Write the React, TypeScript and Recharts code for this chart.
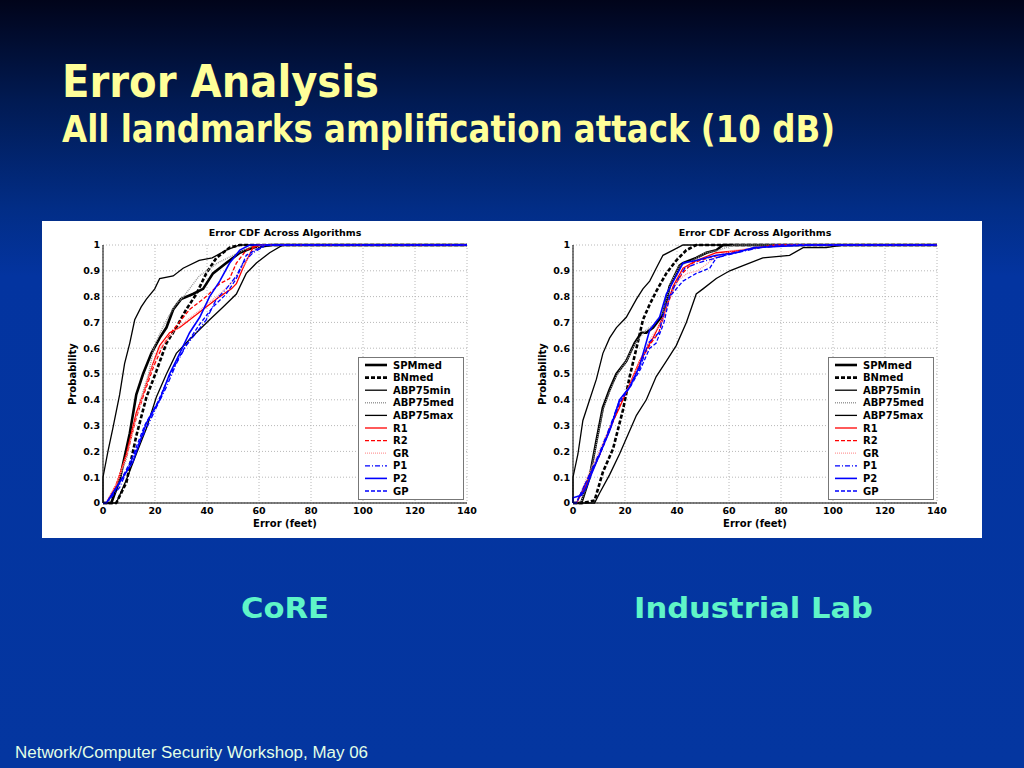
import React from "react"
import { LineChart, Line, XAxis, YAxis, CartesianGrid, Legend, Label } from "recharts"

// ---- data: [error (feet), probability] ----
const xTicks = [0, 20, 40, 60, 80, 100, 120, 140]
const yTicks = [0, 0.1, 0.2, 0.3, 0.4, 0.5, 0.6, 0.7, 0.8, 0.9, 1]

// CoRE
const coreSPMmed = [[0, 0], [3.2, 0], [6.4, 0.09], [10.3, 0.27], [12.8, 0.42], [15.4, 0.5], [18.6, 0.58], [21.8, 0.64], [24.4, 0.68], [27, 0.75], [30, 0.79], [34.6, 0.81], [38.5, 0.83], [42.3, 0.89], [47.4, 0.93], [52.6, 0.97], [57.7, 0.99], [65, 1], [140, 1]]
const coreBNmed = [[0, 0], [5.1, 0], [9, 0.08], [12.8, 0.26], [16.7, 0.41], [20.5, 0.51], [24.4, 0.62], [28.2, 0.68], [32, 0.75], [35.9, 0.81], [39.7, 0.89], [43.6, 0.95], [48.7, 0.99], [52.6, 1], [140, 1]]
const coreABP75min = [[0, 0], [0, 0.1], [1.9, 0.2], [3.8, 0.29], [6.4, 0.42], [8.3, 0.54], [10.3, 0.62], [12.2, 0.71], [14.7, 0.76], [16.7, 0.79], [19.9, 0.83], [21.8, 0.87], [27, 0.88], [30.8, 0.91], [37, 0.94], [42, 0.95], [47.4, 0.98], [52.6, 1], [140, 1]]
const coreABP75med = [[0, 0], [2, 0], [5, 0.06], [9, 0.17], [12.5, 0.33], [15, 0.42], [17.5, 0.5], [19.5, 0.6], [22, 0.66], [25, 0.72], [28, 0.77], [31, 0.8], [34, 0.84], [37, 0.88], [40, 0.9], [44, 0.93], [48, 0.95], [52, 0.97], [56, 0.99], [62, 1], [140, 1]]
const coreABP75max = [[0, 0], [5.1, 0], [9, 0.09], [12.8, 0.19], [16.7, 0.29], [20.5, 0.41], [24.4, 0.5], [28.2, 0.58], [32, 0.62], [35.9, 0.66], [41, 0.71], [46.2, 0.76], [51.3, 0.81], [55.1, 0.89], [59, 0.93], [64.1, 0.97], [69.2, 1], [140, 1]]
const coreR1 = [[0, 0], [1.3, 0], [5.1, 0.07], [9, 0.19], [12.8, 0.35], [15.4, 0.42], [19.2, 0.54], [21.8, 0.61], [25.6, 0.66], [29.5, 0.68], [34.6, 0.72], [39.7, 0.76], [44.9, 0.8], [49.4, 0.83], [51.3, 0.85], [53.8, 0.91], [57.7, 0.99], [60.3, 1], [140, 1]]
const coreR2 = [[0, 0], [1.3, 0], [5, 0.07], [9, 0.18], [12.8, 0.33], [16, 0.43], [19.5, 0.53], [23, 0.61], [26.9, 0.67], [33.3, 0.75], [39.7, 0.8], [44.9, 0.85], [48.7, 0.87], [51.3, 0.93], [55.1, 0.98], [59, 1], [140, 1]]
const coreGR = [[0, 0], [1, 0], [5, 0.07], [9, 0.18], [13, 0.34], [16, 0.44], [19, 0.53], [22, 0.6], [26, 0.65], [30, 0.69], [35, 0.73], [40, 0.77], [45, 0.81], [50, 0.86], [54, 0.92], [58, 0.98], [61, 1], [140, 1]]
const coreP1 = [[0, 0], [1.3, 0], [6.4, 0.06], [11.5, 0.18], [16.7, 0.29], [20.5, 0.37], [24.4, 0.45], [28.2, 0.54], [32, 0.61], [35.9, 0.66], [39.7, 0.71], [43.6, 0.79], [47.4, 0.83], [51.3, 0.88], [53.8, 0.93], [57.7, 0.97], [62.8, 1], [140, 1]]
const coreP2 = [[0, 0], [1.3, 0], [6.4, 0.08], [11.5, 0.16], [16.7, 0.31], [21.8, 0.4], [25.6, 0.5], [29.5, 0.58], [33.3, 0.66], [37.2, 0.72], [41, 0.8], [44.9, 0.86], [48.7, 0.93], [52.6, 0.98], [56.4, 1], [140, 1]]
const coreGP = [[0, 0], [1.3, 0], [6, 0.07], [11, 0.17], [16, 0.3], [21, 0.39], [25, 0.48], [29, 0.56], [33, 0.63], [37, 0.69], [42.3, 0.76], [47.4, 0.81], [51.3, 0.87], [55.1, 0.96], [60.3, 0.99], [64.1, 1], [140, 1]]

// Industrial Lab
const labSPMmed = [[0, 0], [3.2, 0], [6.4, 0.1], [9, 0.24], [11.5, 0.37], [14.1, 0.44], [16.7, 0.5], [20.5, 0.55], [23.7, 0.62], [26.3, 0.66], [28.2, 0.66], [30.8, 0.68], [34.6, 0.73], [37.2, 0.84], [41, 0.92], [42.3, 0.93], [47.4, 0.95], [51.3, 0.97], [55.1, 0.98], [57.7, 1], [140, 1]]
const labBNmed = [[0, 0], [3.8, 0], [8.3, 0.01], [11.5, 0.12], [15.4, 0.21], [19.2, 0.36], [21.8, 0.49], [24.4, 0.6], [26.9, 0.71], [29.5, 0.77], [32, 0.82], [35.9, 0.89], [39.7, 0.94], [43.6, 0.98], [47.4, 1], [140, 1]]
const labABP75min = [[0, 0], [0, 0.1], [1.9, 0.19], [3.8, 0.32], [6.4, 0.4], [9, 0.48], [11.5, 0.58], [14.1, 0.64], [16.7, 0.68], [20.5, 0.72], [24.4, 0.79], [26.9, 0.83], [29.5, 0.86], [32, 0.91], [34.6, 0.96], [38.5, 0.98], [42.3, 1], [140, 1]]
const labABP75med = [[0, 0], [3, 0], [6.4, 0.1], [9, 0.23], [11.5, 0.36], [14, 0.43], [17, 0.5], [20.5, 0.55], [24, 0.62], [28, 0.67], [31, 0.69], [34.6, 0.74], [37.5, 0.85], [41, 0.92], [46, 0.94], [51, 0.97], [56, 0.98], [62, 1], [140, 1]]
const labABP75max = [[0, 0], [8.3, 0], [10.3, 0.04], [14.1, 0.11], [17.9, 0.19], [21.8, 0.28], [24.4, 0.34], [28.2, 0.4], [32, 0.49], [35.9, 0.55], [39.7, 0.61], [43.6, 0.7], [47.4, 0.81], [50, 0.83], [55.1, 0.87], [60.3, 0.9], [65.4, 0.92], [73, 0.95], [83.3, 0.96], [88.5, 0.99], [97.4, 0.99], [103.8, 1], [140, 1]]
const labR1 = [[0, 0], [1.3, 0], [5.1, 0.07], [10.3, 0.19], [14.1, 0.29], [17.9, 0.37], [21.8, 0.46], [25.6, 0.55], [30.8, 0.64], [34.6, 0.72], [38.5, 0.84], [42.3, 0.91], [47.4, 0.94], [55.1, 0.97], [65.4, 0.98], [78, 1], [140, 1]]
const labR2 = [[0, 0], [1.3, 0], [5, 0.08], [10, 0.18], [14, 0.28], [18, 0.38], [22, 0.46], [26, 0.55], [30, 0.62], [33, 0.66], [36, 0.76], [39, 0.84], [42, 0.89], [46, 0.93], [52, 0.95], [60, 0.97], [70, 0.99], [80, 1], [140, 1]]
const labGR = [[0, 0], [1.3, 0], [5, 0.09], [10, 0.2], [14, 0.29], [18, 0.39], [22, 0.46], [26, 0.56], [30, 0.64], [34, 0.7], [37, 0.79], [40, 0.86], [44, 0.89], [48, 0.9], [52, 0.93], [56, 0.96], [62, 0.98], [72, 0.99], [85, 1], [140, 1]]
const labP1 = [[0, 0], [1.3, 0], [5, 0.08], [10, 0.19], [14, 0.29], [18, 0.4], [22, 0.45], [26, 0.53], [29, 0.62], [33, 0.66], [36, 0.78], [40, 0.86], [43, 0.91], [48, 0.93], [55, 0.95], [63, 0.97], [72, 0.99], [85, 1], [140, 1]]
const labP2 = [[0, 0], [0, 0.02], [3.2, 0.03], [5.1, 0.06], [7, 0.11], [10.3, 0.19], [14.1, 0.28], [17.9, 0.4], [21.8, 0.45], [25.6, 0.53], [29.5, 0.67], [33.3, 0.72], [35.9, 0.81], [39.7, 0.88], [42.3, 0.93], [47.4, 0.94], [55.1, 0.96], [62.8, 0.97], [69.7, 0.99], [91, 1], [140, 1]]
const labGP = [[0, 0], [1.3, 0], [5, 0.08], [10, 0.18], [14, 0.28], [18, 0.39], [22, 0.45], [26, 0.52], [29.5, 0.6], [32, 0.62], [35, 0.7], [37.2, 0.8], [42.3, 0.86], [47.4, 0.89], [52.6, 0.91], [55.1, 0.95], [65.4, 0.98], [78, 1], [140, 1]]

const seriesNames = ["SPMmed", "BNmed", "ABP75min", "ABP75med", "ABP75max", "R1", "R2", "GR", "P1", "P2", "GP"]
const coreSeries = [coreSPMmed, coreBNmed, coreABP75min, coreABP75med, coreABP75max, coreR1, coreR2, coreGR, coreP1, coreP2, coreGP]
const labSeries = [labSPMmed, labBNmed, labABP75min, labABP75med, labABP75max, labR1, labR2, labGR, labP1, labP2, labGP]

// line looks, in the same order as seriesNames
const lineStyles = [
  { color: "#000000", width: 2.6, dash: undefined },
  { color: "#000000", width: 2.6, dash: "4 2" },
  { color: "#000000", width: 1.3, dash: undefined },
  { color: "#9a9a9a", width: 1.4, dash: "1 1" },
  { color: "#000000", width: 1.3, dash: undefined },
  { color: "#ff0000", width: 1.3, dash: undefined },
  { color: "#ff0000", width: 1.3, dash: "4 2" },
  { color: "#ff9a9a", width: 1.3, dash: "1 1" },
  { color: "#0000ff", width: 1.3, dash: "5 2 1 2" },
  { color: "#0000ff", width: 1.6, dash: undefined },
  { color: "#0000ff", width: 1.3, dash: "4 2" },
]

const toPoints = (a: number[][]) => a.map(([x, p]) => ({ x, p }))
const fmtY = (v: number) => (v === 0 ? "0" : v === 1 ? "1" : v.toFixed(1))

const chartFont = "'DejaVu Sans', sans-serif"
const slideFont = "'DejaVu Sans', sans-serif"
const tickStyle = { fill: "#000", fontSize: 9.5, fontWeight: "bold" as const, fontFamily: chartFont }

function LegendBox() {
  return (
    <svg width={106} height={144} style={{ display: "block" }}>
      <rect x={0.5} y={0.5} width={105} height={142} fill="#fff" stroke="#777" strokeWidth={1} />
      {seriesNames.map((n, i) => {
        const s = lineStyles[i]
        const y = 8 + i * 12.6
        return (
          <g key={n}>
            <line x1={7} x2={29} y1={y} y2={y} stroke={s.color} strokeWidth={s.width} strokeDasharray={s.dash} />
            <text x={35} y={y + 3.6} fontSize={10} fontWeight="bold" fontFamily={chartFont} fill="#000">
              {n}
            </text>
          </g>
        )
      })}
    </svg>
  )
}

function CdfChart({ series }: { series: number[][][] }) {
  return (
    <LineChart width={470} height={317} margin={{ top: 24, right: 45, bottom: 0, left: 0 }}>
      <CartesianGrid stroke="#b8b8b8" strokeDasharray="1 2" />
      <XAxis
        dataKey="x"
        type="number"
        domain={[0, 140]}
        ticks={xTicks}
        height={35}
        tickSize={0}
        tickMargin={4}
        tick={tickStyle}
        axisLine={{ stroke: "#000" }}
        tickLine={false}
      >
        <Label
          content={() => (
            <text x={243} y={306} textAnchor="middle" fontSize={10} fontWeight="bold" fontFamily={chartFont} fill="#000">
              Error (feet)
            </text>
          )}
        />
      </XAxis>
      <YAxis
        dataKey="p"
        type="number"
        domain={[0, 1]}
        ticks={yTicks}
        width={61}
        tickSize={0}
        tickMargin={3}
        tick={tickStyle}
        tickFormatter={fmtY}
        axisLine={{ stroke: "#000" }}
        tickLine={false}
      >
        <Label
          content={() => (
            <text x={34} y={153} transform="rotate(-90 34 153)" textAnchor="middle" fontSize={10} fontWeight="bold" fontFamily={chartFont} fill="#000">
              Probability
            </text>
          )}
        />
        <Label
          content={() => (
            <text x={243} y={15} textAnchor="middle" fontSize={9.5} fontWeight="bold" fontFamily={chartFont} fill="#000">
              Error CDF Across Algorithms
            </text>
          )}
        />
      </YAxis>
      {seriesNames.map((n, i) => (
        <Line
          key={n}
          name={n}
          data={toPoints(series[i])}
          dataKey="p"
          type="linear"
          stroke={lineStyles[i].color}
          strokeWidth={lineStyles[i].width}
          strokeDasharray={lineStyles[i].dash}
          dot={false}
          activeDot={false}
          isAnimationActive={false}
        />
      ))}
      <Legend
        layout="vertical"
        align="center"
        verticalAlign="middle"
        content={() => <LegendBox />}
        wrapperStyle={{ left: 316, top: 136, width: 106, height: 144 }}
      />
    </LineChart>
  )
}

export default function App() {
  return (
    <div
      style={{
        position: "fixed",
        left: 0,
        top: 0,
        width: 1024,
        height: 768,
        overflow: "hidden",
        background: "linear-gradient(to bottom, #01041a 0%, #011a52 13%, #022d86 27%, #0334a0 36%, #0436a0 100%)",
      }}
    >
      <svg width={1024} height={768} style={{ position: "absolute", left: 0, top: 0 }}>
        <text x={62} y={97} fontSize={45} fontWeight="bold" fontFamily={slideFont} fill="#ffff99" textLength={317} lengthAdjust="spacingAndGlyphs">
          Error Analysis
        </text>
        <text x={62} y={142} fontSize={37} fontWeight="bold" fontFamily={slideFont} fill="#ffff99" textLength={773} lengthAdjust="spacingAndGlyphs">
          All landmarks amplification attack (10 dB)
        </text>
        <text x={241} y={618} fontSize={29} fontWeight="bold" fontFamily={slideFont} fill="#5ff5c8" textLength={88} lengthAdjust="spacingAndGlyphs">
          CoRE
        </text>
        <text x={634} y={618} fontSize={29} fontWeight="bold" fontFamily={slideFont} fill="#5ff5c8" textLength={239} lengthAdjust="spacingAndGlyphs">
          Industrial Lab
        </text>
        <text x={15} y={758} fontSize={16} fontFamily="'Liberation Sans', Arial, sans-serif" fill="#e2ffe6" textLength={353} lengthAdjust="spacingAndGlyphs">
          Network/Computer Security Workshop, May 06
        </text>
      </svg>
      <div style={{ position: "absolute", left: 42, top: 221, width: 940, height: 317, background: "#fff" }} />
      <div style={{ position: "absolute", left: 42, top: 221 }}>
        <CdfChart series={coreSeries} />
      </div>
      <div style={{ position: "absolute", left: 512, top: 221 }}>
        <CdfChart series={labSeries} />
      </div>
    </div>
  )
}
